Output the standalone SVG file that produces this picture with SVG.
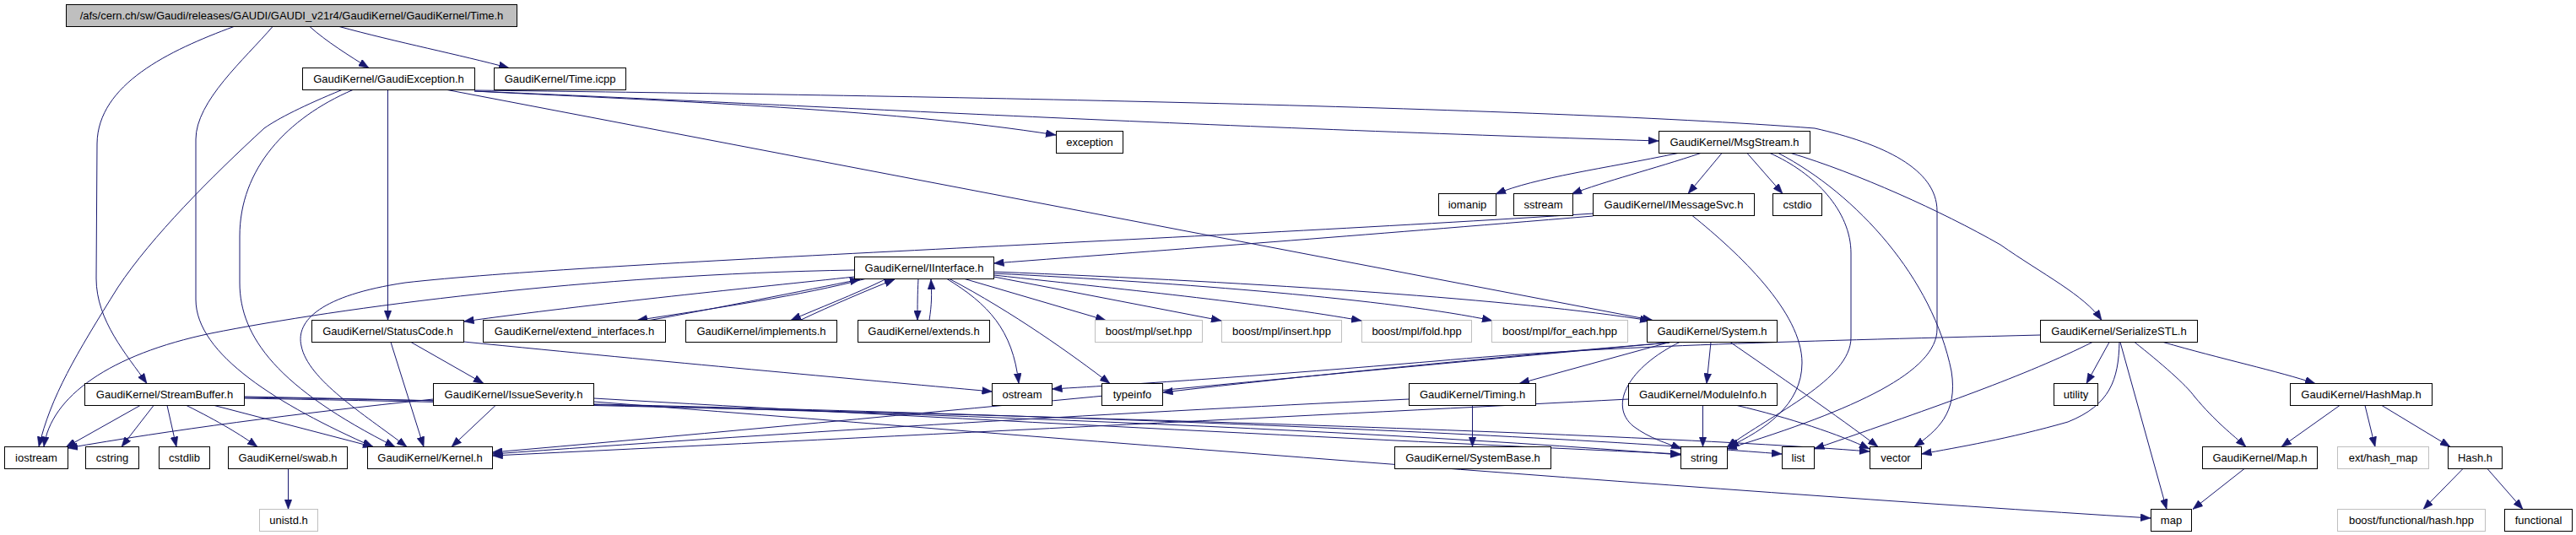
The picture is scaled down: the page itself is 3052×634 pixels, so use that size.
<svg xmlns="http://www.w3.org/2000/svg" width="3052" height="634" viewBox="0 0 3052 634">
<style>
.n rect{fill:#ffffff;stroke:#000000;stroke-width:1}
.n.g rect{stroke:#bfbfbf}
.n.r rect{fill:#bfbfbf}
.n text{font-family:"Liberation Sans",Arial,sans-serif;font-size:13px;fill:#000000;text-anchor:middle}
#edges path{fill:none;stroke:#191970;stroke-width:1;marker-end:url(#ah)}
</style>
<defs>
<marker id="ah" markerUnits="userSpaceOnUse" markerWidth="12" markerHeight="9" refX="12" refY="4.5" orient="auto">
<path d="M0,0 L12,4.5 L0,9 z" fill="#191970" stroke="#191970" stroke-width="0.5"/>
</marker>
</defs>
<rect width="3052" height="634" fill="#ffffff"/>
<g id="edges">
<path d="M367,31.5 C385,48 415,67 437,80.5"/>
<path d="M402,31.5 C470,50 545,65 603,80.5"/>
<path d="M277,31.5 C200,60 116,100 115,170 L114,330 C114,380 150,420 174,454.5"/>
<path d="M323,31.5 C290,70 232,120 232,165 L232,355 C232,420 330,480 442,529.5"/>
<path d="M405,106.5 C360,125 330,140 313,152 C250,210 180,280 140,340 C90,420 60,470 46,529.5"/>
<path d="M418,106.5 C340,140 284,200 284,280 L284,335 C284,400 330,460 468,529.5"/>
<path d="M459.5,106.5 L459.5,379.5"/>
<path d="M562,108 C750,118 1050,128 1251,160"/>
<path d="M562,108 C900,122 1400,150 1965,167"/>
<path d="M562,107 C1000,112 1800,125 2150,152 C2230,170 2295,200 2295,250 L2295,390 C2295,440 2200,485 2046,532"/>
<path d="M530,106.5 L1958,379.5"/>
<path d="M1988,181.5 C1900,200 1820,210 1772,230"/>
<path d="M2015,181.5 C1960,200 1900,215 1862,230"/>
<path d="M2040,181.5 L2000,229.5"/>
<path d="M2070,181.5 L2112,229.5"/>
<path d="M2097,181.5 C2150,205 2193,250 2193,300 L2193,400 C2193,450 2100,490 2046,530"/>
<path d="M2107,181.5 C2200,230 2290,330 2312,440 C2320,490 2295,510 2268,529.5"/>
<path d="M2122,181.5 C2200,205 2300,250 2370,290 C2420,325 2470,350 2490,379.5"/>
<path d="M1887.5,256 C1600,280 1400,295 1177.5,312"/>
<path d="M1888,253 C1400,285 700,310 480,335 C380,350 350,380 357,410 C365,450 430,490 482,529.5"/>
<path d="M2005,255.5 C2060,300 2135,370 2135,430 C2135,480 2090,510 2048,529.5"/>
<path d="M1012.5,328 C900,340 700,360 549.5,381"/>
<path d="M1012.5,320 C700,325 400,365 250,395 C130,420 60,470 52,529.5"/>
<path d="M1025,330.5 C950,350 850,365 755,379.5"/>
<path d="M770,379.5 C850,365 950,345 1019,331"/>
<path d="M1050,330.5 C1010,350 970,365 937,379.5"/>
<path d="M948,379.5 C985,362 1025,345 1060,331"/>
<path d="M1088,330.5 C1087,350 1087,360 1087,379.5"/>
<path d="M1101,379.5 C1104,360 1104,350 1103,331"/>
<path d="M1122,330.5 C1170,360 1200,390 1207,454.5"/>
<path d="M1125,330.5 C1200,370 1270,420 1315,454.5"/>
<path d="M1143,330.5 L1310,379.5"/>
<path d="M1177.5,328 L1447,380"/>
<path d="M1177.5,326 C1350,345 1500,360 1613,380"/>
<path d="M1177.5,324 C1400,335 1650,355 1768,380"/>
<path d="M1177.5,322 C1500,335 1800,355 1955,380"/>
<path d="M487,405.5 L573,454.5"/>
<path d="M463,405.5 L502,529.5"/>
<path d="M549.5,405 C800,430 1000,448 1175.5,464"/>
<path d="M166,480.5 L78,530"/>
<path d="M182,480.5 L144,529.5"/>
<path d="M198,480.5 L209,529.5"/>
<path d="M221,480.5 C260,500 285,515 305,529.5"/>
<path d="M254,480.5 L442,529.5"/>
<path d="M289.5,470 C800,480 1500,500 1991,539"/>
<path d="M289.5,471 C900,480 1700,505 2111,538"/>
<path d="M289.5,472 C1000,485 1900,510 2215,535"/>
<path d="M341.5,555.5 L341.5,603.5"/>
<path d="M513.5,473 C350,490 200,510 80,531"/>
<path d="M587,480.5 L535,529.5"/>
<path d="M703.5,472 C1100,495 1600,520 1991,538"/>
<path d="M703.5,476 C1200,515 2000,580 2548,614"/>
<path d="M1744.5,480.5 L1744.5,529.5"/>
<path d="M1669.5,473 C1300,490 900,515 583.5,538"/>
<path d="M1929.5,473 C1600,490 1000,520 583.5,540"/>
<path d="M2017.5,480.5 L2017.5,529.5"/>
<path d="M2058,480.5 C2120,495 2180,515 2215,532"/>
<path d="M1978,405.5 L1800,454.5"/>
<path d="M2027,405.5 L2022,454.5"/>
<path d="M1990,405.5 C1930,435 1905,480 1935,505 C1955,520 1975,525 1992,532"/>
<path d="M2050,405.5 C2100,440 2180,495 2225,529.5"/>
<path d="M1978,406 C1750,425 1550,445 1377.5,465"/>
<path d="M1978,406 C1600,440 1000,500 583.5,536"/>
<path d="M2417.5,397 C2100,405 1900,410 1700,428 C1500,445 1350,455 1246.5,461"/>
<path d="M2499,405.5 L2472,454.5"/>
<path d="M2512,405.5 L2567,603.5"/>
<path d="M2529,405.5 C2560,430 2590,456 2600,470 C2625,500 2645,515 2661,529.5"/>
<path d="M2563,405.5 C2630,425 2700,440 2743,454.5"/>
<path d="M2511,405.5 C2510,450 2500,480 2450,500 C2380,520 2320,530 2276.5,538"/>
<path d="M2479,405.5 C2400,445 2300,480 2149.5,532"/>
<path d="M2772,480.5 L2703,529.5"/>
<path d="M2802,480.5 L2814,529.5"/>
<path d="M2822,480.5 L2903,529.5"/>
<path d="M2659,555.5 L2598,603.5"/>
<path d="M2918,555.5 L2871,603.5"/>
<path d="M2947,555.5 L2989,603.5"/>
</g>
<g id="n_root" class="n r"><rect x="78.5" y="5.5" width="534" height="26"/><text x="345.5" y="23">/afs/cern.ch/sw/Gaudi/releases/GAUDI/GAUDI_v21r4/GaudiKernel/GaudiKernel/Time.h</text></g>
<g id="n_GaudiException" class="n"><rect x="358.5" y="80.5" width="204" height="26"/><text x="460.5" y="98">GaudiKernel/GaudiException.h</text></g>
<g id="n_TimeIcpp" class="n"><rect x="585.5" y="80.5" width="156" height="26"/><text x="663.5" y="98">GaudiKernel/Time.icpp</text></g>
<g id="n_exception" class="n"><rect x="1251.5" y="155.5" width="79" height="26"/><text x="1291" y="173">exception</text></g>
<g id="n_MsgStream" class="n"><rect x="1965.5" y="155.5" width="179" height="26"/><text x="2055" y="173">GaudiKernel/MsgStream.h</text></g>
<g id="n_iomanip" class="n"><rect x="1704.5" y="229.5" width="68" height="26"/><text x="1738.5" y="247">iomanip</text></g>
<g id="n_sstream" class="n"><rect x="1793.5" y="229.5" width="70" height="26"/><text x="1828.5" y="247">sstream</text></g>
<g id="n_IMessageSvc" class="n"><rect x="1887.5" y="229.5" width="191" height="26"/><text x="1983" y="247">GaudiKernel/IMessageSvc.h</text></g>
<g id="n_cstdio" class="n"><rect x="2100.5" y="229.5" width="58" height="26"/><text x="2129.5" y="247">cstdio</text></g>
<g id="n_IInterface" class="n"><rect x="1012.5" y="304.5" width="165" height="26"/><text x="1095" y="322">GaudiKernel/IInterface.h</text></g>
<g id="n_StatusCode" class="n"><rect x="369.5" y="379.5" width="180" height="26"/><text x="459.5" y="397">GaudiKernel/StatusCode.h</text></g>
<g id="n_extend_interfaces" class="n"><rect x="572.5" y="379.5" width="216" height="26"/><text x="680.5" y="397">GaudiKernel/extend_interfaces.h</text></g>
<g id="n_implements" class="n"><rect x="812.5" y="379.5" width="179" height="26"/><text x="902" y="397">GaudiKernel/implements.h</text></g>
<g id="n_extends" class="n"><rect x="1016.5" y="379.5" width="156" height="26"/><text x="1094.5" y="397">GaudiKernel/extends.h</text></g>
<g id="n_set" class="n g"><rect x="1297.5" y="379.5" width="127" height="26"/><text x="1361" y="397">boost/mpl/set.hpp</text></g>
<g id="n_insert" class="n g"><rect x="1447.5" y="379.5" width="142" height="26"/><text x="1518.5" y="397">boost/mpl/insert.hpp</text></g>
<g id="n_fold" class="n g"><rect x="1613.5" y="379.5" width="130" height="26"/><text x="1678.5" y="397">boost/mpl/fold.hpp</text></g>
<g id="n_for_each" class="n g"><rect x="1767.5" y="379.5" width="161" height="26"/><text x="1848" y="397">boost/mpl/for_each.hpp</text></g>
<g id="n_System" class="n"><rect x="1951.5" y="379.5" width="154" height="26"/><text x="2028.5" y="397">GaudiKernel/System.h</text></g>
<g id="n_SerializeSTL" class="n"><rect x="2417.5" y="379.5" width="186" height="26"/><text x="2510.5" y="397">GaudiKernel/SerializeSTL.h</text></g>
<g id="n_StreamBuffer" class="n"><rect x="100.5" y="454.5" width="189" height="26"/><text x="195" y="472">GaudiKernel/StreamBuffer.h</text></g>
<g id="n_IssueSeverity" class="n"><rect x="513.5" y="454.5" width="190" height="26"/><text x="608.5" y="472">GaudiKernel/IssueSeverity.h</text></g>
<g id="n_ostream" class="n"><rect x="1175.5" y="454.5" width="71" height="26"/><text x="1211" y="472">ostream</text></g>
<g id="n_typeinfo" class="n"><rect x="1305.5" y="454.5" width="72" height="26"/><text x="1341.5" y="472">typeinfo</text></g>
<g id="n_Timing" class="n"><rect x="1669.5" y="454.5" width="150" height="26"/><text x="1744.5" y="472">GaudiKernel/Timing.h</text></g>
<g id="n_ModuleInfo" class="n"><rect x="1929.5" y="454.5" width="176" height="26"/><text x="2017.5" y="472">GaudiKernel/ModuleInfo.h</text></g>
<g id="n_utility" class="n"><rect x="2433.5" y="454.5" width="52" height="26"/><text x="2459.5" y="472">utility</text></g>
<g id="n_HashMap" class="n"><rect x="2713.5" y="454.5" width="168" height="26"/><text x="2797.5" y="472">GaudiKernel/HashMap.h</text></g>
<g id="n_iostream" class="n"><rect x="5.5" y="529.5" width="75" height="26"/><text x="43" y="547">iostream</text></g>
<g id="n_cstring" class="n"><rect x="101.5" y="529.5" width="63" height="26"/><text x="133" y="547">cstring</text></g>
<g id="n_cstdlib" class="n"><rect x="188.5" y="529.5" width="60" height="26"/><text x="218.5" y="547">cstdlib</text></g>
<g id="n_swab" class="n"><rect x="270.5" y="529.5" width="141" height="26"/><text x="341" y="547">GaudiKernel/swab.h</text></g>
<g id="n_Kernel" class="n"><rect x="435.5" y="529.5" width="148" height="26"/><text x="509.5" y="547">GaudiKernel/Kernel.h</text></g>
<g id="n_SystemBase" class="n"><rect x="1652.5" y="529.5" width="185" height="26"/><text x="1745" y="547">GaudiKernel/SystemBase.h</text></g>
<g id="n_string" class="n"><rect x="1991.5" y="529.5" width="55" height="26"/><text x="2019" y="547">string</text></g>
<g id="n_list" class="n"><rect x="2111.5" y="529.5" width="38" height="26"/><text x="2130.5" y="547">list</text></g>
<g id="n_vector" class="n"><rect x="2215.5" y="529.5" width="61" height="26"/><text x="2246" y="547">vector</text></g>
<g id="n_Map" class="n"><rect x="2609.5" y="529.5" width="136" height="26"/><text x="2677.5" y="547">GaudiKernel/Map.h</text></g>
<g id="n_ext_hash_map" class="n g"><rect x="2769.5" y="529.5" width="108" height="26"/><text x="2823.5" y="547">ext/hash_map</text></g>
<g id="n_Hash" class="n"><rect x="2900.5" y="529.5" width="64" height="26"/><text x="2932.5" y="547">Hash.h</text></g>
<g id="n_unistd" class="n g"><rect x="307.5" y="603.5" width="69" height="26"/><text x="342" y="621">unistd.h</text></g>
<g id="n_map" class="n"><rect x="2548.5" y="603.5" width="48" height="26"/><text x="2572.5" y="621">map</text></g>
<g id="n_boost_hash" class="n g"><rect x="2769.5" y="603.5" width="175" height="26"/><text x="2857" y="621">boost/functional/hash.hpp</text></g>
<g id="n_functional" class="n"><rect x="2967.5" y="603.5" width="80" height="26"/><text x="3007.5" y="621">functional</text></g>
</svg>
